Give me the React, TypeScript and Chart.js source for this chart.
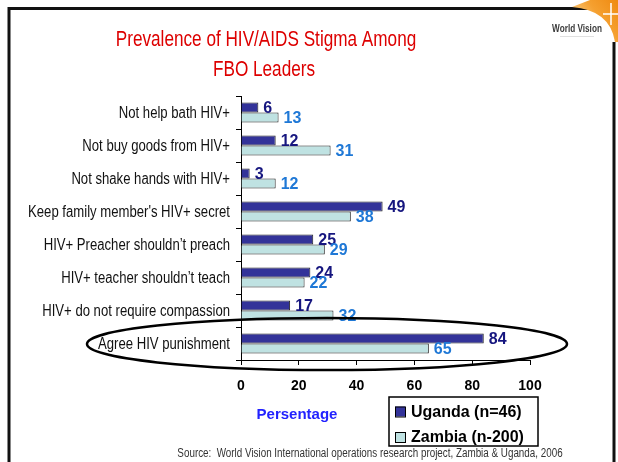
import React, { useEffect, useRef } from "react";
import { Chart, registerables } from "chart.js";
Chart.register(...registerables);

const categories = [
  "Not help bath HIV+",
  "Not buy goods from HIV+",
  "Not shake hands with HIV+",
  "Keep family member's HIV+ secret",
  "HIV+ Preacher shouldn’t preach",
  "HIV+ teacher shouldn’t teach",
  "HIV+ do not require compassion",
  "Agree HIV punishment",
];
const ugandaValues = [6, 12, 3, 49, 25, 24, 17, 84];
const zambiaValues = [13, 31, 12, 38, 29, 22, 32, 65];
const seriesNames = ["Uganda (n=46)", "Zambia (n-200)"];
const xMin = 0;
const xMax = 100;
const xStep = 20;
const titleLines = ["Prevalence of HIV/AIDS Stigma Among", "FBO Leaders"];
const axisTitle = "Persentage";
const sourceText = "Source:  World Vision International operations research project, Zambia & Uganda, 2006";
const logoText = "World Vision";

const SANS = '"Liberation Sans", Arial, sans-serif';
const NARROW_X = 0.82;
const UG_FILL = "#333399";
const ZM_FILL = "#bfe2e2";
const UG_LABEL = "#16167f";
const ZM_LABEL = "#1f78d6";

function narrowText(ctx: CanvasRenderingContext2D, text: string, x: number, y: number, font: string, color: string, align: CanvasTextAlign, sx: number = NARROW_X) {
  ctx.save();
  ctx.font = font;
  ctx.fillStyle = color;
  ctx.textAlign = align;
  ctx.textBaseline = "middle";
  ctx.translate(x, y);
  ctx.scale(sx, 1);
  ctx.fillText(text, 0, 0);
  ctx.restore();
}

const decorPlugin = {
  id: "decor",
  afterDraw(chart: any) {
    const ctx = chart.ctx as CanvasRenderingContext2D;
    ctx.save();
    // frame
    ctx.strokeStyle = "#111";
    ctx.lineWidth = 3;
    ctx.beginPath();
    ctx.moveTo(9, 470);
    ctx.lineTo(9, 8.5);
    ctx.lineTo(590, 8.5);
    ctx.moveTo(614, 42);
    ctx.lineTo(614, 470);
    ctx.stroke();

    // orange logo corner
    const grad = ctx.createLinearGradient(580, 30, 618, 0);
    grad.addColorStop(0, "#fbd08a");
    grad.addColorStop(0.5, "#f5a030");
    grad.addColorStop(1, "#ef8a10");
    ctx.fillStyle = grad;
    ctx.beginPath();
    ctx.moveTo(572, 7);
    ctx.quadraticCurveTo(610, 10, 615, 42);
    ctx.lineTo(618, 42);
    ctx.lineTo(618, 0);
    ctx.lineTo(590, 0);
    ctx.closePath();
    ctx.fill();
    ctx.strokeStyle = "#ffffff";
    ctx.lineWidth = 1.5;
    ctx.beginPath();
    ctx.moveTo(611, 3);
    ctx.lineTo(611, 25);
    ctx.moveTo(603, 14);
    ctx.lineTo(618, 14);
    ctx.stroke();

    // logo text
    narrowText(ctx, logoText, 577, 29, `bold 10px ${SANS}`, "#3a3a3a", "center");
    ctx.strokeStyle = "#e0e0e0";
    ctx.lineWidth = 1;
    ctx.beginPath();
    ctx.moveTo(560, 36.5);
    ctx.lineTo(594, 36.5);
    ctx.stroke();

    // title
    narrowText(ctx, titleLines[0], 266, 40, `22px ${SANS}`, "#dd0000", "center", 0.78);
    narrowText(ctx, titleLines[1], 264, 70, `22px ${SANS}`, "#dd0000", "center", 0.78);

    // category labels
    const yScale = chart.scales.y;
    chart.data.labels.forEach((lab: string, i: number) => {
      narrowText(ctx, lab, 230, yScale.getPixelForTick(i) + 1, `16px ${SANS}`, "#111", "right");
    });

    // value labels
    const colors = [UG_LABEL, ZM_LABEL];
    ctx.font = `bold 16px ${SANS}`;
    ctx.textAlign = "left";
    ctx.textBaseline = "middle";
    chart.data.datasets.forEach((ds: any, di: number) => {
      const meta = chart.getDatasetMeta(di);
      ctx.fillStyle = colors[di];
      meta.data.forEach((bar: any, i: number) => {
        ctx.fillText(String(ds.data[i]), bar.x + 5, bar.y + 1);
      });
    });

    // ellipse
    ctx.strokeStyle = "#000";
    ctx.lineWidth = 2.5;
    ctx.beginPath();
    ctx.ellipse(327, 344, 240, 26, 0, 0, Math.PI * 2);
    ctx.stroke();

    // axis title
    ctx.fillStyle = "#2222ff";
    ctx.font = `bold 15px ${SANS}`;
    ctx.textAlign = "center";
    ctx.fillText(axisTitle, 297, 415);

    // legend
    ctx.strokeStyle = "#000";
    ctx.lineWidth = 1.5;
    ctx.fillStyle = "#fff";
    ctx.fillRect(389, 397, 149, 49);
    ctx.strokeRect(389, 397, 149, 49);
    const ys = [411.5, 437];
    chart.data.datasets.forEach((ds: any, di: number) => {
      ctx.fillStyle = ds.backgroundColor;
      ctx.fillRect(395, ys[di] - 5, 10, 10);
      ctx.lineWidth = 1;
      ctx.strokeStyle = "#000";
      ctx.strokeRect(395.5, ys[di] - 4.5, 10, 10);
      ctx.fillStyle = "#000";
      ctx.font = `bold 16px ${SANS}`;
      ctx.textAlign = "left";
      ctx.fillText(ds.label, 411, ys[di] + 1);
    });

    // source
    narrowText(ctx, sourceText, 370, 454, `12px ${SANS}`, "#333", "center");
    ctx.restore();
  },
};

export default function App() {
  const ref = useRef<HTMLCanvasElement>(null);
  useEffect(() => {
    document.body.style.margin = "0";
    const chart = new Chart(ref.current!, {
      type: "bar",
      data: {
        labels: categories,
        datasets: [
          {
            label: seriesNames[0],
            data: ugandaValues,
            backgroundColor: UG_FILL,
            borderColor: "#222",
            borderWidth: 1,
            categoryPercentage: 0.6,
            barPercentage: 1,
          },
          {
            label: seriesNames[1],
            data: zambiaValues,
            backgroundColor: ZM_FILL,
            borderColor: "#222",
            borderWidth: 1,
            categoryPercentage: 0.6,
            barPercentage: 1,
          },
        ],
      },
      options: {
        indexAxis: "y",
        responsive: false,
        animation: false,
        layout: { padding: { left: 0, right: 88, top: 96, bottom: 0 } },
        plugins: {
          legend: { display: false },
          tooltip: { enabled: false },
          title: { display: false },
        },
        scales: {
          x: {
            min: xMin,
            max: xMax,
            ticks: {
              stepSize: xStep,
              color: "#000",
              font: { family: SANS, size: 14, weight: "bold" },
              padding: 13,
            },
            grid: { drawOnChartArea: false, drawTicks: true, tickLength: 5, color: "#000" },
            border: { color: "#000", width: 1 },
            afterFit: (scale: any) => {
              scale.height = 102;
            },
          },
          y: {
            ticks: { display: false },
            grid: { drawOnChartArea: false, drawTicks: true, tickLength: 5, color: "#000", offset: true },
            border: { color: "#000", width: 1 },
            afterFit: (scale: any) => {
              scale.width = 241;
            },
          },
        },
      },
      plugins: [decorPlugin],
    } as any);
    return () => chart.destroy();
  }, []);
  return (
    <div style={{ position: "fixed", left: 0, top: 0, width: 618, height: 462, background: "#fff" }}>
      <canvas ref={ref} width={618} height={462} />
    </div>
  );
}
